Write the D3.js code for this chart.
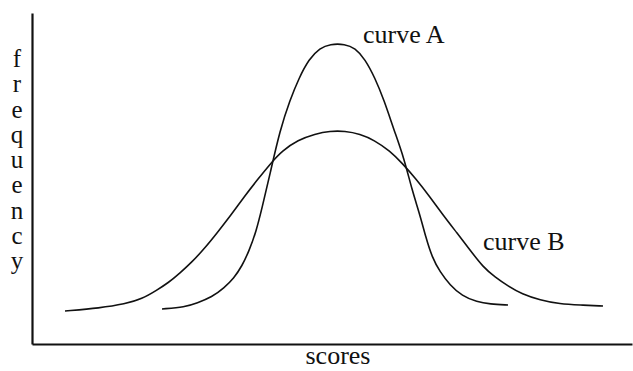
<!DOCTYPE html>
<html>
<head>
<meta charset="utf-8">
<script src="https://cdn.jsdelivr.net/npm/d3@7"></script>
<style>
  html, body { margin: 0; padding: 0; background: #fff; }
  svg text { font-family: "Liberation Serif", "Times New Roman", serif; fill: #111; }
</style>
</head>
<body>
<svg id="chart" width="633" height="371"></svg>
<script>
// Curve A: narrow, tall distribution of scores
const curveAScores = [130,153,165,180,192,202,210,217,224,230,238,248,258,267,277,288,298,313,323,333,343,352,362,372,380,388,394,400,408,418,430,445,458,476];
const curveAFreq   = [35,37,41,47,56,66,78,93,112,136,170,214,244,266,285,296,300,300,296,285,266,244,214,186,154,129,106,87,72,59,48,42,40,39];

// Curve B: wide, flatter distribution of scores
const curveBScores = [33,68,93,110,125,136,148,160,172,185,199,212,226,239,250,266,283,298,313,328,342,358,370,384,398,411,425,438,451,463,476,490,508,528,548,571];
const curveBFreq   = [33,36,40,45,54,61,71,82,95,111,129,147,165,181,193,204,210,213,213,210,204,193,181,165,147,129,111,94,77,67,58,50,44,40,39,38];

const curveLabels = ["curve A", "curve B"];
const xTitle = "scores";
const yTitle = "frequency";

const svg = d3.select("#chart");
const x = d3.scaleLinear().domain([0, 600]).range([32, 632]);
const y = d3.scaleLinear().domain([0, 331]).range([344, 13]);

// Axes as bare lines, no ticks
const xAxis = d3.axisBottom(x).tickValues([]).tickSizeOuter(0);
const yAxis = d3.axisLeft(y).tickValues([]).tickSizeOuter(0);
svg.append("g").attr("transform", `translate(0,${y(0)})`).call(xAxis)
  .select(".domain").attr("stroke", "#111").attr("stroke-width", 2);
svg.append("g").attr("transform", `translate(${x(0)},0)`).call(yAxis)
  .select(".domain").attr("stroke", "#111").attr("stroke-width", 2.2);

const line = d3.line()
  .x(d => x(d[0]))
  .y(d => y(d[1]))
  .curve(d3.curveBasis);

const seriesA = d3.zip(curveAScores, curveAFreq);
const seriesB = d3.zip(curveBScores, curveBFreq);

[seriesB, seriesA].forEach(s => {
  svg.append("path")
    .datum(s)
    .attr("d", line)
    .attr("fill", "none")
    .attr("stroke", "#111")
    .attr("stroke-width", 1.6);
});

// Curve labels
svg.append("text").attr("x", 363).attr("y", 43)
  .attr("font-size", 26).text(curveLabels[0]);
svg.append("text").attr("x", 483).attr("y", 250)
  .attr("font-size", 26).text(curveLabels[1]);

// Axis titles
svg.append("text").attr("x", 338).attr("y", 364)
  .attr("text-anchor", "middle").attr("font-size", 26).text(xTitle);

const yLetters = yTitle.split("");
svg.append("g").selectAll("text").data(yLetters).join("text")
  .attr("x", 17)
  .attr("y", (d, i) => 67 + i * 25.25)
  .attr("text-anchor", "middle")
  .attr("font-size", 25)
  .text(d => d);
</script>
</body>
</html>
